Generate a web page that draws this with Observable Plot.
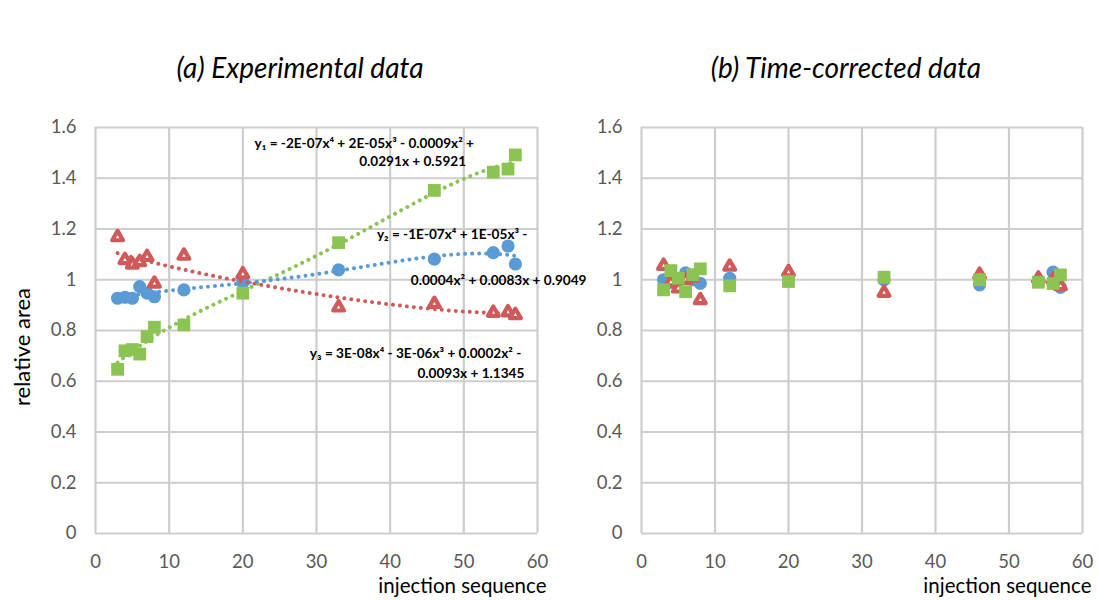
<!DOCTYPE html>
<html>
<head>
<meta charset="utf-8">
<script src="https://cdn.jsdelivr.net/npm/d3@7"></script>
<script src="https://cdn.jsdelivr.net/npm/@observablehq/plot@0.6"></script>
<style>
  body { margin: 0; background: #fff; }
  #wrap { position: relative; width: 1098px; height: 600px; display: flex; font-family: Lato, "Open Sans", sans-serif; }
  .col { width: 549px; height: 600px; }
  .title { height: 100px; box-sizing: border-box; padding-top: 50px; font-size: 28px; line-height: 34px; font-style: italic; color: #000; text-align: center; white-space: nowrap; }
  #titleA { padding-left: 51px; }
  #titleB { padding-left: 45px; }
  #ylabel { position: absolute; left: 22px; top: 347px; transform: translate(-50%, -50%) rotate(-90deg); font-size: 22px; line-height: 26px; color: #000; white-space: nowrap; }
</style>
</head>
<body>
<div id="wrap">
  <div class="col" id="colA"><div class="title" id="titleA">(a) Experimental data</div></div>
  <div class="col" id="colB"><div class="title" id="titleB">(b) Time-corrected data</div></div>
  <div id="ylabel">relative area</div>
</div>
<script>
// ---- data ----
const injections = [3, 4, 5, 6, 7, 8, 12, 20, 33, 46, 54, 56, 57];

// (a) experimental data
const blueA  = [0.927, 0.931, 0.927, 0.973, 0.947, 0.933, 0.960, 0.990, 1.039, 1.081, 1.107, 1.133, 1.062];
const redA   = [1.168, 1.078, 1.060, 1.070, 1.090, 0.985, 1.095, 1.022, 0.891, 0.905, 0.870, 0.872, 0.861];
const greenA = [0.647, 0.720, 0.725, 0.707, 0.776, 0.813, 0.822, 0.947, 1.146, 1.352, 1.424, 1.436, 1.492];

// (b) time-corrected data
const blueB  = [1.000, 0.990, 1.000, 1.027, 1.000, 0.986, 1.006, 1.000, 1.000, 0.980, 0.995, 1.030, 0.970];
const redB   = [1.055, 0.990, 0.966, 1.000, 1.010, 0.920, 1.052, 1.030, 0.949, 1.020, 1.005, 1.000, 0.975];
const greenB = [0.960, 1.036, 1.006, 0.953, 1.020, 1.043, 0.976, 0.993, 1.010, 1.000, 0.990, 0.985, 1.019];

const eqY1 = ["y\u2081 = -2E-07x\u2074 + 2E-05x\u00b3 - 0.0009x\u00b2 + ", "0.0291x + 0.5921"];
const eqY2 = ["y\u2082 = -1E-07x\u2074 + 1E-05x\u00b3 - ", "0.0004x\u00b2 + 0.0083x + 0.9049"];
const eqY3 = ["y\u2083 = 3E-08x\u2074 - 3E-06x\u00b3 + 0.0002x\u00b2 - ", "0.0093x + 1.1345"];

const yTicks = [0, 0.2, 0.4, 0.6, 0.8, 1, 1.2, 1.4, 1.6];
const xTicks = [0, 10, 20, 30, 40, 50, 60];

const C_BLUE = "#5b9bd5", C_RED = "#d05a5a", C_GREEN = "#8cc454";

// ---- 4th-order polynomial least-squares trendline (as the spreadsheet does) ----
function polyfit(xs, ys, deg) {
  const s = d3.max(xs), n = deg + 1;
  const A = Array.from({length: n}, () => new Array(n + 1).fill(0));
  xs.forEach((x, i) => {
    const t = x / s;
    for (let r = 0; r < n; r++) {
      for (let c = 0; c < n; c++) A[r][c] += Math.pow(t, r + c);
      A[r][n] += ys[i] * Math.pow(t, r);
    }
  });
  for (let i = 0; i < n; i++) {
    let p = i;
    for (let k = i + 1; k < n; k++) if (Math.abs(A[k][i]) > Math.abs(A[p][i])) p = k;
    [A[i], A[p]] = [A[p], A[i]];
    for (let k = i + 1; k < n; k++) {
      const f = A[k][i] / A[i][i];
      for (let c = i; c <= n; c++) A[k][c] -= f * A[i][c];
    }
  }
  const coef = new Array(n).fill(0);
  for (let i = n - 1; i >= 0; i--) {
    let v = A[i][n];
    for (let c = i + 1; c < n; c++) v -= A[i][c] * coef[c];
    coef[i] = v / A[i][i];
  }
  return x => coef.reduce((acc, a, k) => acc + a * Math.pow(x / s, k), 0);
}
function trend(ys) {
  const f = polyfit(injections, ys, 4);
  const x0 = d3.min(injections), x1 = d3.max(injections);
  return d3.range(x0, x1 + 0.001, 0.25).map(x => ({x, y: f(x)}));
}
const rows = ys => injections.map((x, i) => ({x, y: ys[i]}));

function panel(blue, red, green, withTrend, ml, mr) {
  const dotted = {strokeWidth: 4, strokeDasharray: "0.01,7", strokeLinecap: "round"};
  const eq = {textAnchor: "start", fontWeight: "bold", fontSize: 13.6, fill: "#000"};
  const marks = [
    Plot.gridX(xTicks, {stroke: "#cdcdcd", strokeOpacity: 1, strokeWidth: 2.2}),
    Plot.gridY(yTicks, {stroke: "#cdcdcd", strokeOpacity: 1, strokeWidth: 2.2}),
    Plot.axisX(xTicks, {tickSize: 0, tickPadding: 21, fill: "#595959", fontSize: 18.5, label: null}),
    Plot.axisY(yTicks, {tickSize: 0, tickPadding: 19, fill: "#595959", fontSize: 18.5, label: null, tickFormat: d3.format("~g")}),
    Plot.dot(rows(blue), {x: "x", y: "y", r: 6.6, fill: C_BLUE, symbol: "circle"}),
    Plot.dot(rows(red), {x: "x", y: "y", r: 4.0, fill: "white", stroke: C_RED, strokeWidth: 4.2, symbol: "triangle", strokeLinejoin: "round"}),
    Plot.dot(rows(green), {x: "x", y: "y", r: 7.2, fill: C_GREEN, symbol: "square"}),
    Plot.text(["injection sequence"], {frameAnchor: "bottom-right", dx: 9, dy: 45, fontSize: 20.5, fill: "#000", textAnchor: "end", lineAnchor: "top"})
  ];
  if (withTrend) {
    marks.push(
      Plot.line(trend(green), {x: "x", y: "y", stroke: C_GREEN, ...dotted}),
      Plot.line(trend(blue), {x: "x", y: "y", stroke: C_BLUE, ...dotted}),
      Plot.line(trend(red), {x: "x", y: "y", stroke: C_RED, ...dotted}),
      Plot.text([eqY1[0]], {x: () => 21.6, y: () => 1.538, ...eq}),
      Plot.text([eqY1[1]], {x: () => 35.8, y: () => 1.464, ...eq}),
      Plot.text([eqY2[0]], {x: () => 38.2, y: () => 1.177, ...eq}),
      Plot.text([eqY2[1]], {x: () => 42.8, y: () => 0.996, ...eq}),
      Plot.text([eqY3[0]], {x: () => 29.1, y: () => 0.707, ...eq}),
      Plot.text([eqY3[1]], {x: () => 43.7, y: () => 0.631, ...eq})
    );
  }
  return Plot.plot({
    width: 549, height: 500,
    marginTop: 27, marginBottom: 67, marginLeft: ml, marginRight: mr,
    x: {domain: [0, 60]},
    y: {domain: [0, 1.6]},
    style: {fontFamily: "Lato, 'Open Sans', sans-serif", background: "transparent", overflow: "visible"},
    marks
  });
}

document.getElementById("colA").appendChild(panel(blueA, redA, greenA, true, 95, 12));
document.getElementById("colB").appendChild(panel(blueB, redB, greenB, false, 92, 16));
</script>
</body>
</html>
